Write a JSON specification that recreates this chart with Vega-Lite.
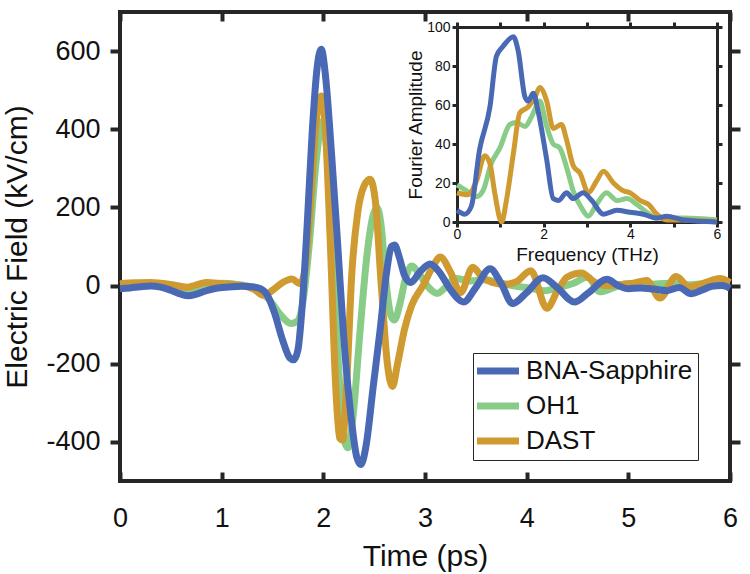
{
"$schema": "https://vega.github.io/schema/vega-lite/v6.json",
"width": 610, "height": 469,
"autosize": {"type": "none"},
"padding": {"left": 120, "top": 12, "right": 20, "bottom": 93},
"background": "white",
"config": {
  "view": {"stroke": "#262626", "strokeWidth": 4},
  "axis": {"grid": false, "domain": false, "labelFont": "Liberation Sans", "titleFont": "Liberation Sans", "labelColor": "#111111", "titleColor": "#111111", "titleFontWeight": "normal", "tickColor": "#262626", "tickWidth": 4, "labelFlush": false, "labelOverlap": false},
  "legend": {"orient": "none", "legendX": 353, "legendY": 341, "labelFontSize": 26, "labelFont": "Liberation Sans", "labelColor": "#111111", "symbolType": "M-2,0H4", "symbolSize": 196, "symbolStrokeWidth": 7, "labelOffset": 22, "rowPadding": 7, "padding": 5, "strokeColor": "#262626", "fillColor": "white", "labelLimit": 400}
},
"datasets": {
  "main": [
    {"s":"BNA-Sapphire","t":0,"v":-8},{"s":"BNA-Sapphire","t":0.1,"v":-6},{"s":"BNA-Sapphire","t":0.2,"v":-3},{"s":"BNA-Sapphire","t":0.3,"v":-1},{"s":"BNA-Sapphire","t":0.4,"v":-4},{"s":"BNA-Sapphire","t":0.5,"v":-12},{"s":"BNA-Sapphire","t":0.6,"v":-22},{"s":"BNA-Sapphire","t":0.67,"v":-26},{"s":"BNA-Sapphire","t":0.76,"v":-21},{"s":"BNA-Sapphire","t":0.86,"v":-12},{"s":"BNA-Sapphire","t":0.96,"v":-6},{"s":"BNA-Sapphire","t":1.1,"v":-3},{"s":"BNA-Sapphire","t":1.2,"v":-2},{"s":"BNA-Sapphire","t":1.3,"v":-3},{"s":"BNA-Sapphire","t":1.38,"v":-8},{"s":"BNA-Sapphire","t":1.45,"v":-25},{"s":"BNA-Sapphire","t":1.52,"v":-70},{"s":"BNA-Sapphire","t":1.6,"v":-140},{"s":"BNA-Sapphire","t":1.67,"v":-185},{"s":"BNA-Sapphire","t":1.71,"v":-190},{"s":"BNA-Sapphire","t":1.75,"v":-165},{"s":"BNA-Sapphire","t":1.79,"v":-60},{"s":"BNA-Sapphire","t":1.84,"v":150},{"s":"BNA-Sapphire","t":1.89,"v":390},{"s":"BNA-Sapphire","t":1.94,"v":560},{"s":"BNA-Sapphire","t":1.98,"v":605},{"s":"BNA-Sapphire","t":2.02,"v":540},{"s":"BNA-Sapphire","t":2.08,"v":340},{"s":"BNA-Sapphire","t":2.14,"v":110},{"s":"BNA-Sapphire","t":2.2,"v":-130},{"s":"BNA-Sapphire","t":2.27,"v":-330},{"s":"BNA-Sapphire","t":2.33,"v":-440},{"s":"BNA-Sapphire","t":2.37,"v":-458},{"s":"BNA-Sapphire","t":2.42,"v":-410},{"s":"BNA-Sapphire","t":2.49,"v":-260},{"s":"BNA-Sapphire","t":2.56,"v":-110},{"s":"BNA-Sapphire","t":2.62,"v":30},{"s":"BNA-Sapphire","t":2.67,"v":100},{"s":"BNA-Sapphire","t":2.7,"v":104},{"s":"BNA-Sapphire","t":2.75,"v":70},{"s":"BNA-Sapphire","t":2.8,"v":25},{"s":"BNA-Sapphire","t":2.86,"v":8},{"s":"BNA-Sapphire","t":2.95,"v":35},{"s":"BNA-Sapphire","t":3.05,"v":55},{"s":"BNA-Sapphire","t":3.14,"v":35},{"s":"BNA-Sapphire","t":3.25,"v":-10},{"s":"BNA-Sapphire","t":3.38,"v":-42},{"s":"BNA-Sapphire","t":3.5,"v":-5},{"s":"BNA-Sapphire","t":3.64,"v":43},{"s":"BNA-Sapphire","t":3.75,"v":5},{"s":"BNA-Sapphire","t":3.86,"v":-46},{"s":"BNA-Sapphire","t":4.0,"v":-18},{"s":"BNA-Sapphire","t":4.16,"v":20},{"s":"BNA-Sapphire","t":4.3,"v":-5},{"s":"BNA-Sapphire","t":4.47,"v":-42},{"s":"BNA-Sapphire","t":4.6,"v":-20},{"s":"BNA-Sapphire","t":4.79,"v":16},{"s":"BNA-Sapphire","t":4.9,"v":0},{"s":"BNA-Sapphire","t":5.0,"v":-8},{"s":"BNA-Sapphire","t":5.12,"v":-6},{"s":"BNA-Sapphire","t":5.25,"v":-9},{"s":"BNA-Sapphire","t":5.38,"v":-13},{"s":"BNA-Sapphire","t":5.5,"v":-5},{"s":"BNA-Sapphire","t":5.62,"v":-21},{"s":"BNA-Sapphire","t":5.72,"v":-12},{"s":"BNA-Sapphire","t":5.82,"v":-2},{"s":"BNA-Sapphire","t":5.92,"v":0},{"s":"BNA-Sapphire","t":6.0,"v":-7},
    {"s":"OH1","t":0,"v":3},{"s":"OH1","t":0.2,"v":5},{"s":"OH1","t":0.4,"v":2},{"s":"OH1","t":0.55,"v":-6},{"s":"OH1","t":0.65,"v":-10},{"s":"OH1","t":0.78,"v":-4},{"s":"OH1","t":0.9,"v":3},{"s":"OH1","t":1.0,"v":6},{"s":"OH1","t":1.15,"v":3},{"s":"OH1","t":1.28,"v":-3},{"s":"OH1","t":1.38,"v":-15},{"s":"OH1","t":1.48,"v":-40},{"s":"OH1","t":1.58,"v":-75},{"s":"OH1","t":1.68,"v":-97},{"s":"OH1","t":1.74,"v":-92},{"s":"OH1","t":1.8,"v":-40},{"s":"OH1","t":1.86,"v":100},{"s":"OH1","t":1.93,"v":320},{"s":"OH1","t":1.99,"v":420},{"s":"OH1","t":2.04,"v":330},{"s":"OH1","t":2.1,"v":50},{"s":"OH1","t":2.16,"v":-250},{"s":"OH1","t":2.21,"v":-400},{"s":"OH1","t":2.24,"v":-415},{"s":"OH1","t":2.29,"v":-340},{"s":"OH1","t":2.36,"v":-120},{"s":"OH1","t":2.43,"v":80},{"s":"OH1","t":2.49,"v":180},{"s":"OH1","t":2.53,"v":200},{"s":"OH1","t":2.57,"v":150},{"s":"OH1","t":2.62,"v":0},{"s":"OH1","t":2.67,"v":-80},{"s":"OH1","t":2.7,"v":-88},{"s":"OH1","t":2.75,"v":-50},{"s":"OH1","t":2.81,"v":20},{"s":"OH1","t":2.87,"v":50},{"s":"OH1","t":2.93,"v":35},{"s":"OH1","t":3.02,"v":0},{"s":"OH1","t":3.12,"v":-20},{"s":"OH1","t":3.2,"v":-5},{"s":"OH1","t":3.3,"v":18},{"s":"OH1","t":3.45,"v":12},{"s":"OH1","t":3.6,"v":15},{"s":"OH1","t":3.72,"v":8},{"s":"OH1","t":3.86,"v":0},{"s":"OH1","t":4.02,"v":-6},{"s":"OH1","t":4.18,"v":-13},{"s":"OH1","t":4.33,"v":-4},{"s":"OH1","t":4.46,"v":6},{"s":"OH1","t":4.6,"v":22},{"s":"OH1","t":4.72,"v":-16},{"s":"OH1","t":4.85,"v":-6},{"s":"OH1","t":4.98,"v":5},{"s":"OH1","t":5.2,"v":3},{"s":"OH1","t":5.4,"v":6},{"s":"OH1","t":5.6,"v":2},{"s":"OH1","t":5.8,"v":6},{"s":"OH1","t":6.0,"v":7},
    {"s":"DAST","t":0,"v":5},{"s":"DAST","t":0.15,"v":7},{"s":"DAST","t":0.3,"v":8},{"s":"DAST","t":0.5,"v":3},{"s":"DAST","t":0.66,"v":-4},{"s":"DAST","t":0.85,"v":8},{"s":"DAST","t":1.0,"v":5},{"s":"DAST","t":1.2,"v":0},{"s":"DAST","t":1.32,"v":-10},{"s":"DAST","t":1.41,"v":-25},{"s":"DAST","t":1.5,"v":-12},{"s":"DAST","t":1.6,"v":8},{"s":"DAST","t":1.69,"v":17},{"s":"DAST","t":1.77,"v":5},{"s":"DAST","t":1.82,"v":40},{"s":"DAST","t":1.87,"v":200},{"s":"DAST","t":1.93,"v":420},{"s":"DAST","t":1.98,"v":485},{"s":"DAST","t":2.02,"v":400},{"s":"DAST","t":2.07,"v":100},{"s":"DAST","t":2.12,"v":-250},{"s":"DAST","t":2.16,"v":-390},{"s":"DAST","t":2.19,"v":-395},{"s":"DAST","t":2.23,"v":-250},{"s":"DAST","t":2.28,"v":30},{"s":"DAST","t":2.34,"v":190},{"s":"DAST","t":2.4,"v":255},{"s":"DAST","t":2.46,"v":272},{"s":"DAST","t":2.51,"v":220},{"s":"DAST","t":2.57,"v":0},{"s":"DAST","t":2.63,"v":-200},{"s":"DAST","t":2.68,"v":-258},{"s":"DAST","t":2.73,"v":-200},{"s":"DAST","t":2.8,"v":-110},{"s":"DAST","t":2.87,"v":-50},{"s":"DAST","t":2.98,"v":0},{"s":"DAST","t":3.07,"v":45},{"s":"DAST","t":3.15,"v":73},{"s":"DAST","t":3.25,"v":35},{"s":"DAST","t":3.35,"v":-18},{"s":"DAST","t":3.47,"v":47},{"s":"DAST","t":3.56,"v":22},{"s":"DAST","t":3.66,"v":8},{"s":"DAST","t":3.78,"v":3},{"s":"DAST","t":3.9,"v":10},{"s":"DAST","t":4.04,"v":38},{"s":"DAST","t":4.2,"v":-58},{"s":"DAST","t":4.3,"v":-15},{"s":"DAST","t":4.4,"v":22},{"s":"DAST","t":4.54,"v":32},{"s":"DAST","t":4.65,"v":12},{"s":"DAST","t":4.76,"v":0},{"s":"DAST","t":4.9,"v":2},{"s":"DAST","t":5.05,"v":6},{"s":"DAST","t":5.18,"v":13},{"s":"DAST","t":5.31,"v":-32},{"s":"DAST","t":5.47,"v":23},{"s":"DAST","t":5.6,"v":-3},{"s":"DAST","t":5.75,"v":7},{"s":"DAST","t":5.9,"v":18},{"s":"DAST","t":6.0,"v":8}
  ],
  "spec": [
    {"s":"BNA-Sapphire","f":0,"a":6},{"s":"BNA-Sapphire","f":0.18,"a":4},{"s":"BNA-Sapphire","f":0.33,"a":8},{"s":"BNA-Sapphire","f":0.52,"a":37},{"s":"BNA-Sapphire","f":0.76,"a":59},{"s":"BNA-Sapphire","f":0.91,"a":85},{"s":"BNA-Sapphire","f":1.06,"a":90},{"s":"BNA-Sapphire","f":1.3,"a":95},{"s":"BNA-Sapphire","f":1.41,"a":88},{"s":"BNA-Sapphire","f":1.57,"a":64},{"s":"BNA-Sapphire","f":1.64,"a":62},{"s":"BNA-Sapphire","f":1.76,"a":66},{"s":"BNA-Sapphire","f":1.87,"a":57},{"s":"BNA-Sapphire","f":2.07,"a":32},{"s":"BNA-Sapphire","f":2.22,"a":12},{"s":"BNA-Sapphire","f":2.34,"a":11},{"s":"BNA-Sapphire","f":2.53,"a":15},{"s":"BNA-Sapphire","f":2.68,"a":12},{"s":"BNA-Sapphire","f":2.91,"a":15},{"s":"BNA-Sapphire","f":3.11,"a":11},{"s":"BNA-Sapphire","f":3.38,"a":4},{"s":"BNA-Sapphire","f":3.69,"a":6},{"s":"BNA-Sapphire","f":3.99,"a":5},{"s":"BNA-Sapphire","f":4.3,"a":4},{"s":"BNA-Sapphire","f":4.61,"a":2},{"s":"BNA-Sapphire","f":4.84,"a":3},{"s":"BNA-Sapphire","f":5.23,"a":1},{"s":"BNA-Sapphire","f":6,"a":0},
    {"s":"OH1","f":0,"a":19},{"s":"OH1","f":0.22,"a":16},{"s":"OH1","f":0.45,"a":13},{"s":"OH1","f":0.6,"a":16},{"s":"OH1","f":0.79,"a":30},{"s":"OH1","f":0.99,"a":38},{"s":"OH1","f":1.22,"a":50},{"s":"OH1","f":1.37,"a":51},{"s":"OH1","f":1.57,"a":49},{"s":"OH1","f":1.72,"a":54},{"s":"OH1","f":1.91,"a":62},{"s":"OH1","f":2.07,"a":49},{"s":"OH1","f":2.22,"a":40},{"s":"OH1","f":2.37,"a":38},{"s":"OH1","f":2.53,"a":28},{"s":"OH1","f":2.68,"a":16},{"s":"OH1","f":2.88,"a":7},{"s":"OH1","f":3.03,"a":3},{"s":"OH1","f":3.22,"a":9},{"s":"OH1","f":3.45,"a":15},{"s":"OH1","f":3.69,"a":11},{"s":"OH1","f":3.92,"a":12},{"s":"OH1","f":4.15,"a":9},{"s":"OH1","f":4.38,"a":5},{"s":"OH1","f":4.61,"a":2},{"s":"OH1","f":5.23,"a":2},{"s":"OH1","f":6,"a":1},
    {"s":"DAST","f":0,"a":15},{"s":"DAST","f":0.25,"a":14},{"s":"DAST","f":0.45,"a":21},{"s":"DAST","f":0.64,"a":34},{"s":"DAST","f":0.76,"a":30},{"s":"DAST","f":0.87,"a":15},{"s":"DAST","f":1.03,"a":0},{"s":"DAST","f":1.14,"a":11},{"s":"DAST","f":1.3,"a":35},{"s":"DAST","f":1.45,"a":56},{"s":"DAST","f":1.64,"a":59},{"s":"DAST","f":1.8,"a":64},{"s":"DAST","f":1.91,"a":69},{"s":"DAST","f":2.07,"a":62},{"s":"DAST","f":2.22,"a":48},{"s":"DAST","f":2.41,"a":50},{"s":"DAST","f":2.53,"a":42},{"s":"DAST","f":2.68,"a":29},{"s":"DAST","f":2.84,"a":25},{"s":"DAST","f":3.03,"a":15},{"s":"DAST","f":3.22,"a":21},{"s":"DAST","f":3.38,"a":26},{"s":"DAST","f":3.61,"a":20},{"s":"DAST","f":3.84,"a":16},{"s":"DAST","f":3.99,"a":15},{"s":"DAST","f":4.23,"a":11},{"s":"DAST","f":4.42,"a":9},{"s":"DAST","f":4.61,"a":4},{"s":"DAST","f":4.84,"a":1},{"s":"DAST","f":5.23,"a":1},{"s":"DAST","f":6,"a":0}
  ]
},
"layer": [
  {
    "data": {"name": "main"},
    "resolve": {"axis": {"x": "independent", "y": "independent"}},
    "layer": [
      {
        "transform": [{"filter": {"field": "s", "equal": "OH1"}}],
        "mark": {"type": "line", "strokeWidth": 7, "interpolate": "monotone"},
        "encoding": {
          "x": {"field": "t", "type": "quantitative", "scale": {"domain": [0, 6], "nice": false, "zero": false},
                "axis": {"orient": "bottom", "values": [0,1,2,3,4,5,6], "tickSize": -9, "labelPadding": 33, "labelFontSize": 27, "title": "Time (ps)", "titleFontSize": 30, "titlePadding": 10}},
          "y": {"field": "v", "type": "quantitative", "scale": {"domain": [-500, 700], "nice": false, "zero": false},
                "axis": {"orient": "left", "values": [-400,-200,0,200,400,600], "labelExpr": "'' + datum.value", "tickSize": 10, "labelPadding": 10, "labelFontSize": 27, "title": "Electric Field (kV/cm)", "titleFontSize": 30, "titlePadding": 13}},
          "color": {"field": "s", "type": "nominal", "scale": {"domain": ["BNA-Sapphire", "OH1", "DAST"], "range": ["#4a69b5", "#88cc88", "#cf9a30"]}, "legend": {"title": null}}
        }
      },
      {
        "transform": [{"filter": {"field": "s", "equal": "DAST"}}],
        "mark": {"type": "line", "strokeWidth": 7, "interpolate": "monotone"},
        "encoding": {
          "x": {"field": "t", "type": "quantitative", "axis": null},
          "y": {"field": "v", "type": "quantitative", "axis": null},
          "color": {"field": "s", "type": "nominal", "legend": {"title": null}}
        }
      },
      {
        "transform": [{"filter": {"field": "s", "equal": "BNA-Sapphire"}}],
        "mark": {"type": "line", "strokeWidth": 7, "interpolate": "monotone"},
        "encoding": {
          "x": {"field": "t", "type": "quantitative", "axis": null},
          "y": {"field": "v", "type": "quantitative", "axis": null},
          "color": {"field": "s", "type": "nominal", "legend": {"title": null}}
        }
      },
      {
        "mark": {"type": "line", "opacity": 0},
        "encoding": {
          "x": {"field": "t", "type": "quantitative", "axis": {"orient": "top", "values": [0,1,2,3,4,5,6], "tickSize": -9, "labels": false, "title": null}},
          "y": {"field": "v", "type": "quantitative", "axis": {"orient": "right", "values": [-400,-200,0,200,400,600], "tickSize": 10, "labels": false, "title": null}},
          "detail": {"field": "s"}
        }
      }
    ]
  },
  {
    "data": {"name": "spec"},
    "resolve": {"axis": {"x": "independent", "y": "independent"}},
    "layer": [
      {
        "transform": [{"filter": {"field": "s", "equal": "OH1"}}],
        "mark": {"type": "line", "strokeWidth": 5, "interpolate": "monotone"},
        "encoding": {
          "x": {"field": "f", "type": "quantitative", "scale": {"domain": [0, 6], "range": [337, 597], "nice": false, "zero": false},
                "axis": {"orient": "bottom", "offset": -259, "values": [0,1,2,3,4,5,6], "labelExpr": "datum.value % 2 === 0 ? '' + datum.value : ''", "domain": true, "domainWidth": 3, "domainColor": "#262626", "tickSize": 5, "tickWidth": 3, "labelFontSize": 14, "labelPadding": 0, "title": "Frequency (THz)", "titleFontSize": 19, "titlePadding": 4}},
          "y": {"field": "a", "type": "quantitative", "scale": {"domain": [0, 100], "range": [210, 15], "nice": false, "zero": false},
                "axis": {"orient": "left", "offset": -337, "values": [0,20,40,60,80,100], "domain": true, "domainWidth": 3, "domainColor": "#262626", "tickSize": 5, "tickWidth": 3, "labelFontSize": 14, "labelPadding": 2, "title": "Fourier Amplitude", "titleFontSize": 19, "titlePadding": 1}},
          "color": {"field": "s", "type": "nominal", "legend": {"title": null}}
        }
      },
      {
        "transform": [{"filter": {"field": "s", "equal": "DAST"}}],
        "mark": {"type": "line", "strokeWidth": 5, "interpolate": "monotone"},
        "encoding": {
          "x": {"field": "f", "type": "quantitative", "axis": null},
          "y": {"field": "a", "type": "quantitative", "axis": null},
          "color": {"field": "s", "type": "nominal", "legend": {"title": null}}
        }
      },
      {
        "transform": [{"filter": {"field": "s", "equal": "BNA-Sapphire"}}],
        "mark": {"type": "line", "strokeWidth": 5, "interpolate": "monotone"},
        "encoding": {
          "x": {"field": "f", "type": "quantitative", "axis": null},
          "y": {"field": "a", "type": "quantitative", "axis": null},
          "color": {"field": "s", "type": "nominal", "legend": {"title": null}}
        }
      },
      {
        "mark": {"type": "line", "opacity": 0},
        "encoding": {
          "x": {"field": "f", "type": "quantitative", "axis": {"orient": "top", "offset": -15, "values": [0,1,2,3,4,5,6], "domain": true, "domainWidth": 3, "domainColor": "#262626", "tickSize": 5, "tickWidth": 3, "labels": false, "title": null}},
          "y": {"field": "a", "type": "quantitative", "axis": {"orient": "right", "offset": -13, "values": [0,20,40,60,80,100], "domain": true, "domainWidth": 3, "domainColor": "#262626", "tickSize": 5, "tickWidth": 3, "labels": false, "title": null}},
          "detail": {"field": "s"}
        }
      }
    ]
  }
],
"resolve": {"scale": {"x": "independent", "y": "independent"}}
}
